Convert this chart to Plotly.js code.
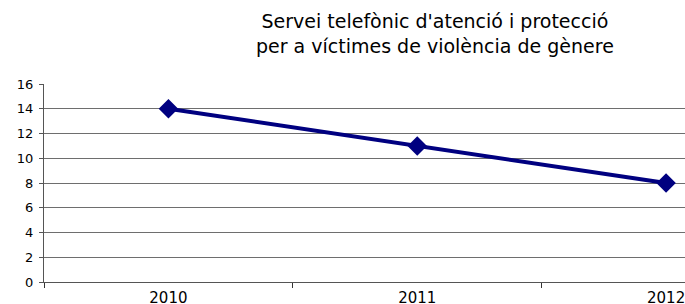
<!DOCTYPE html>
<html>
<head>
<meta charset="utf-8">
<script src="https://cdn.plot.ly/plotly-3.0.1.min.js"></script>
<style>html,body{margin:0;padding:0;background:#fff;}#chart{width:685px;height:304px;}</style>
</head>
<body>
<div id="chart"></div>
<script>
const years = ['2010', '2011', '2012'];
const values = [14, 11, 8];
const yTicks = [0, 2, 4, 6, 8, 10, 12, 14, 16];
const titleText = "Servei telefònic d'atenció i protecció<br>per a víctimes de violència de gènere";

const FONT = 'DejaVu Sans, Liberation Sans, Arial, sans-serif';

const trace = {
  x: years,
  y: values,
  type: 'scatter',
  mode: 'lines+markers',
  line: {color: '#000080', width: 4},
  marker: {symbol: 'diamond', size: 15, color: '#000080'},
  hoverinfo: 'none'
};

const layout = {
  width: 685,
  height: 304,
  margin: {l: 44, r: 0, t: 84, b: 22},
  paper_bgcolor: '#ffffff',
  plot_bgcolor: '#ffffff',
  showlegend: false,
  font: {family: FONT, color: '#000', size: 13},
  annotations: [{
    text: titleText,
    xref: 'paper', yref: 'paper',
    x: (435 - 44) / 641, xanchor: 'center',
    y: 1 + (84 - 34) / 198, yanchor: 'middle',
    showarrow: false,
    align: 'center',
    font: {family: FONT, size: 19, color: '#000'}
  }],
  xaxis: {
    type: 'category',
    range: [-0.5, 2.076],
    tickson: 'boundaries',
    ticks: 'outside',
    ticklen: 5,
    tickcolor: '#333',
    showline: true,
    linecolor: '#555',
    linewidth: 1,
    showgrid: false,
    zeroline: false,
    fixedrange: true,
    ticklabelstandoff: 2,
    tickfont: {family: FONT, size: 15, color: '#000'}
  },
  yaxis: {
    range: [0, 16],
    tickvals: yTicks,
    ticks: 'outside',
    ticklen: 4,
    tickcolor: '#555',
    showline: true,
    linecolor: '#555',
    linewidth: 1,
    showgrid: true,
    gridcolor: '#6e6e6e',
    gridwidth: 1,
    zeroline: false,
    fixedrange: true,
    ticklabelstandoff: 3,
    tickfont: {family: FONT, size: 13, color: '#000'}
  }
};

Plotly.newPlot('chart', [trace], layout, {displayModeBar: false, staticPlot: true});
</script>
</body>
</html>
